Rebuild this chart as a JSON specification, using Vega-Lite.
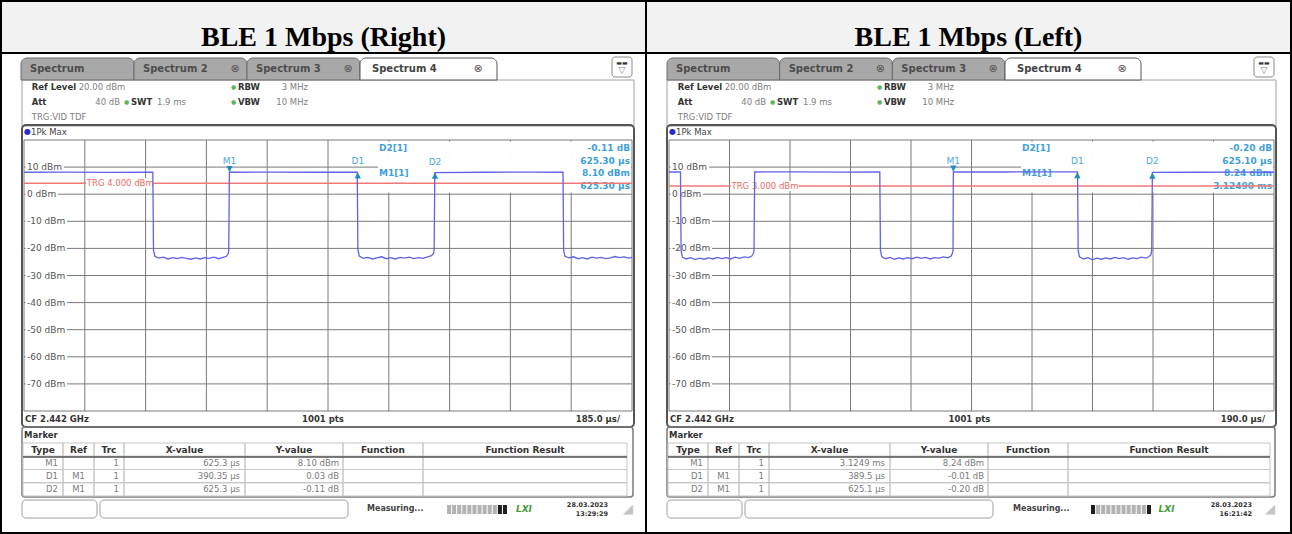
{
"$schema":"https://vega.github.io/schema/vega-lite/v6.json",
"background":"#000000",
"padding":2,
"spacing":2,
"bounds":"flush",
"config":{"view":{"fill":"#ffffff","stroke":null},"font":"DejaVu Sans","axis":{"disable":true},"legend":{"disable":true}},
"datasets":{
"panels":[
{"panel":"R","title":"BLE 1 Mbps (Right)","cf":"CF 2.442 GHz","pts":"1001 pts","div":"185.0 µs/","date":"28.03.2023","time":"13:29:29"},
{"panel":"L","title":"BLE 1 Mbps (Left)","cf":"CF 2.442 GHz","pts":"1001 pts","div":"190.0 µs/","date":"28.03.2023","time":"16:21:42"}],
"tabs":[
{"tab":"Spectrum","bar":"tabs","active":false,"close":false},
{"tab":"Spectrum 2","bar":"tabs","active":false,"close":true},
{"tab":"Spectrum 3","bar":"tabs","active":false,"close":true},
{"tab":"Spectrum 4","bar":"tabs","active":true,"close":true}],
"header":[
{"col":"level","line":"1","label":"Ref Level","value":"20.00 dBm"},
{"col":"level","line":"2","label":"Att","value":"40 dB"},
{"col":"level","line":"3","label":"TRG:VID TDF","value":""},
{"col":"sweep","line":"2","label":"SWT","value":"1.9 ms"},
{"col":"bandwidth","line":"1","label":"RBW","value":"3 MHz"},
{"col":"bandwidth","line":"2","label":"VBW","value":"10 MHz"}],
"gridX":[
{"panel":"R","t":0},{"panel":"R","t":185},{"panel":"R","t":370},{"panel":"R","t":555},{"panel":"R","t":740},{"panel":"R","t":925},{"panel":"R","t":1110},{"panel":"R","t":1295},{"panel":"R","t":1480},{"panel":"R","t":1665},{"panel":"R","t":1850},
{"panel":"L","t":0},{"panel":"L","t":190},{"panel":"L","t":380},{"panel":"L","t":570},{"panel":"L","t":760},{"panel":"L","t":950},{"panel":"L","t":1140},{"panel":"L","t":1330},{"panel":"L","t":1520},{"panel":"L","t":1710},{"panel":"L","t":1900}],
"gridY":[
{"dbm":20,"label":""},{"dbm":10,"label":"10 dBm"},{"dbm":0,"label":"0 dBm"},{"dbm":-10,"label":"-10 dBm"},{"dbm":-20,"label":"-20 dBm"},{"dbm":-30,"label":"-30 dBm"},{"dbm":-40,"label":"-40 dBm"},{"dbm":-50,"label":"-50 dBm"},{"dbm":-60,"label":"-60 dBm"},{"dbm":-70,"label":"-70 dBm"},{"dbm":-80,"label":""}],
"trigger":[{"panel":"R","dbm":4,"label":"TRG  4.000 dBm"},{"panel":"L","dbm":3,"label":"TRG  3.000 dBm"}],
"markers":[
{"panel":"R","name":"M1","type":"M","t":625.3,"dbm":8.1},
{"panel":"R","name":"D1","type":"D","t":1015.65,"dbm":8.13},
{"panel":"R","name":"D2","type":"D","t":1250.6,"dbm":7.99},
{"panel":"L","name":"M1","type":"M","t":893,"dbm":8.24},
{"panel":"L","name":"D1","type":"D","t":1282.5,"dbm":8.23},
{"panel":"L","name":"D2","type":"D","t":1518.1,"dbm":8.04}],
"info":[
{"panel":"R","box":"info","line":"1","left":"D2[1]","right":"-0.11 dB"},
{"panel":"R","box":"info","line":"2","left":"","right":"625.30 µs"},
{"panel":"R","box":"info","line":"3","left":"M1[1]","right":"8.10 dBm"},
{"panel":"R","box":"info","line":"4","left":"","right":"625.30 µs"},
{"panel":"L","box":"info","line":"1","left":"D2[1]","right":"-0.20 dB"},
{"panel":"L","box":"info","line":"2","left":"","right":"625.10 µs"},
{"panel":"L","box":"info","line":"3","left":"M1[1]","right":"8.24 dBm"},
{"panel":"L","box":"info","line":"4","left":"","right":"3.12490 ms"}],
"table":[
{"panel":"R","row":"hdr","col":"Type","text":"Type"},{"panel":"R","row":"hdr","col":"Ref","text":"Ref"},{"panel":"R","row":"hdr","col":"Trc","text":"Trc"},{"panel":"R","row":"hdr","col":"X-value","text":"X-value"},{"panel":"R","row":"hdr","col":"Y-value","text":"Y-value"},{"panel":"R","row":"hdr","col":"Function","text":"Function"},{"panel":"R","row":"hdr","col":"Function Result","text":"Function Result"},
{"panel":"R","row":"M1","col":"Type","text":"M1"},{"panel":"R","row":"M1","col":"Ref","text":""},{"panel":"R","row":"M1","col":"Trc","text":"1"},{"panel":"R","row":"M1","col":"X-value","text":"625.3 µs"},{"panel":"R","row":"M1","col":"Y-value","text":"8.10 dBm"},{"panel":"R","row":"M1","col":"Function","text":""},{"panel":"R","row":"M1","col":"Function Result","text":""},
{"panel":"R","row":"D1","col":"Type","text":"D1"},{"panel":"R","row":"D1","col":"Ref","text":"M1"},{"panel":"R","row":"D1","col":"Trc","text":"1"},{"panel":"R","row":"D1","col":"X-value","text":"390.35 µs"},{"panel":"R","row":"D1","col":"Y-value","text":"0.03 dB"},{"panel":"R","row":"D1","col":"Function","text":""},{"panel":"R","row":"D1","col":"Function Result","text":""},
{"panel":"R","row":"D2","col":"Type","text":"D2"},{"panel":"R","row":"D2","col":"Ref","text":"M1"},{"panel":"R","row":"D2","col":"Trc","text":"1"},{"panel":"R","row":"D2","col":"X-value","text":"625.3 µs"},{"panel":"R","row":"D2","col":"Y-value","text":"-0.11 dB"},{"panel":"R","row":"D2","col":"Function","text":""},{"panel":"R","row":"D2","col":"Function Result","text":""},
{"panel":"L","row":"hdr","col":"Type","text":"Type"},{"panel":"L","row":"hdr","col":"Ref","text":"Ref"},{"panel":"L","row":"hdr","col":"Trc","text":"Trc"},{"panel":"L","row":"hdr","col":"X-value","text":"X-value"},{"panel":"L","row":"hdr","col":"Y-value","text":"Y-value"},{"panel":"L","row":"hdr","col":"Function","text":"Function"},{"panel":"L","row":"hdr","col":"Function Result","text":"Function Result"},
{"panel":"L","row":"M1","col":"Type","text":"M1"},{"panel":"L","row":"M1","col":"Ref","text":""},{"panel":"L","row":"M1","col":"Trc","text":"1"},{"panel":"L","row":"M1","col":"X-value","text":"3.1249 ms"},{"panel":"L","row":"M1","col":"Y-value","text":"8.24 dBm"},{"panel":"L","row":"M1","col":"Function","text":""},{"panel":"L","row":"M1","col":"Function Result","text":""},
{"panel":"L","row":"D1","col":"Type","text":"D1"},{"panel":"L","row":"D1","col":"Ref","text":"M1"},{"panel":"L","row":"D1","col":"Trc","text":"1"},{"panel":"L","row":"D1","col":"X-value","text":"389.5 µs"},{"panel":"L","row":"D1","col":"Y-value","text":"-0.01 dB"},{"panel":"L","row":"D1","col":"Function","text":""},{"panel":"L","row":"D1","col":"Function Result","text":""},
{"panel":"L","row":"D2","col":"Type","text":"D2"},{"panel":"L","row":"D2","col":"Ref","text":"M1"},{"panel":"L","row":"D2","col":"Trc","text":"1"},{"panel":"L","row":"D2","col":"X-value","text":"625.1 µs"},{"panel":"L","row":"D2","col":"Y-value","text":"-0.20 dB"},{"panel":"L","row":"D2","col":"Function","text":""},{"panel":"L","row":"D2","col":"Function Result","text":""}],
"progress":[
{"panel":"R","bar":"p","seg":"01","state":"off"},{"panel":"R","bar":"p","seg":"02","state":"off"},{"panel":"R","bar":"p","seg":"03","state":"off"},{"panel":"R","bar":"p","seg":"04","state":"off"},{"panel":"R","bar":"p","seg":"05","state":"off"},{"panel":"R","bar":"p","seg":"06","state":"off"},{"panel":"R","bar":"p","seg":"07","state":"off"},{"panel":"R","bar":"p","seg":"08","state":"off"},{"panel":"R","bar":"p","seg":"09","state":"off"},{"panel":"R","bar":"p","seg":"10","state":"off"},{"panel":"R","bar":"p","seg":"11","state":"on"},{"panel":"R","bar":"p","seg":"12","state":"on"},
{"panel":"L","bar":"p","seg":"01","state":"on"},{"panel":"L","bar":"p","seg":"02","state":"off"},{"panel":"L","bar":"p","seg":"03","state":"off"},{"panel":"L","bar":"p","seg":"04","state":"off"},{"panel":"L","bar":"p","seg":"05","state":"off"},{"panel":"L","bar":"p","seg":"06","state":"off"},{"panel":"L","bar":"p","seg":"07","state":"off"},{"panel":"L","bar":"p","seg":"08","state":"off"},{"panel":"L","bar":"p","seg":"09","state":"off"},{"panel":"L","bar":"p","seg":"10","state":"off"},{"panel":"L","bar":"p","seg":"11","state":"off"},{"panel":"L","bar":"p","seg":"12","state":"on"}],
"trace":[
{"panel":"R","t":0,"dbm":8.1},{"panel":"R","t":120,"dbm":8.12},{"panel":"R","t":260,"dbm":8.08},{"panel":"R","t":392,"dbm":8.1},{"panel":"R","t":394,"dbm":-20.6},{"panel":"R","t":398,"dbm":-22.9},{"panel":"R","t":410,"dbm":-23.6},{"panel":"R","t":424,"dbm":-23.2},{"panel":"R","t":438,"dbm":-23.9},{"panel":"R","t":452,"dbm":-23.4},{"panel":"R","t":466,"dbm":-23.8},{"panel":"R","t":480,"dbm":-23.3},{"panel":"R","t":494,"dbm":-23.7},{"panel":"R","t":508,"dbm":-24.0},{"panel":"R","t":522,"dbm":-23.5},{"panel":"R","t":536,"dbm":-23.9},{"panel":"R","t":550,"dbm":-23.4},{"panel":"R","t":564,"dbm":-23.7},{"panel":"R","t":578,"dbm":-23.2},{"panel":"R","t":592,"dbm":-23.8},{"panel":"R","t":606,"dbm":-23.3},{"panel":"R","t":616,"dbm":-22.9},{"panel":"R","t":621,"dbm":-22.0},{"panel":"R","t":623,"dbm":-20.8},{"panel":"R","t":625,"dbm":8.1},{"panel":"R","t":760,"dbm":8.14},{"panel":"R","t":900,"dbm":8.1},{"panel":"R","t":1014,"dbm":8.12},{"panel":"R","t":1016,"dbm":-20.5},{"panel":"R","t":1020,"dbm":-22.8},{"panel":"R","t":1032,"dbm":-23.7},{"panel":"R","t":1046,"dbm":-23.3},{"panel":"R","t":1060,"dbm":-23.9},{"panel":"R","t":1074,"dbm":-23.5},{"panel":"R","t":1088,"dbm":-23.1},{"panel":"R","t":1102,"dbm":-23.8},{"panel":"R","t":1116,"dbm":-23.4},{"panel":"R","t":1130,"dbm":-23.9},{"panel":"R","t":1144,"dbm":-23.3},{"panel":"R","t":1158,"dbm":-23.6},{"panel":"R","t":1172,"dbm":-23.2},{"panel":"R","t":1186,"dbm":-23.8},{"panel":"R","t":1200,"dbm":-23.4},{"panel":"R","t":1214,"dbm":-23.7},{"panel":"R","t":1228,"dbm":-23.1},{"panel":"R","t":1240,"dbm":-22.7},{"panel":"R","t":1246,"dbm":-21.9},{"panel":"R","t":1248,"dbm":-20.5},{"panel":"R","t":1250,"dbm":7.99},{"panel":"R","t":1400,"dbm":8.1},{"panel":"R","t":1540,"dbm":8.12},{"panel":"R","t":1640,"dbm":8.1},{"panel":"R","t":1642,"dbm":-20.7},{"panel":"R","t":1646,"dbm":-22.9},{"panel":"R","t":1658,"dbm":-23.5},{"panel":"R","t":1672,"dbm":-23.1},{"panel":"R","t":1686,"dbm":-23.8},{"panel":"R","t":1700,"dbm":-23.4},{"panel":"R","t":1714,"dbm":-23.9},{"panel":"R","t":1728,"dbm":-23.2},{"panel":"R","t":1742,"dbm":-23.6},{"panel":"R","t":1756,"dbm":-23.3},{"panel":"R","t":1770,"dbm":-23.8},{"panel":"R","t":1784,"dbm":-23.5},{"panel":"R","t":1798,"dbm":-23.0},{"panel":"R","t":1812,"dbm":-23.4},{"panel":"R","t":1826,"dbm":-23.1},{"panel":"R","t":1840,"dbm":-23.6},{"panel":"R","t":1850,"dbm":-23.3},
{"panel":"L","t":0,"dbm":8.2},{"panel":"L","t":36,"dbm":8.2},{"panel":"L","t":38,"dbm":-20.8},{"panel":"L","t":42,"dbm":-23.2},{"panel":"L","t":54,"dbm":-23.9},{"panel":"L","t":68,"dbm":-23.4},{"panel":"L","t":82,"dbm":-24.1},{"panel":"L","t":96,"dbm":-23.6},{"panel":"L","t":110,"dbm":-24.0},{"panel":"L","t":124,"dbm":-23.5},{"panel":"L","t":138,"dbm":-23.9},{"panel":"L","t":152,"dbm":-23.3},{"panel":"L","t":166,"dbm":-23.8},{"panel":"L","t":180,"dbm":-23.4},{"panel":"L","t":194,"dbm":-23.9},{"panel":"L","t":208,"dbm":-23.2},{"panel":"L","t":222,"dbm":-23.7},{"panel":"L","t":236,"dbm":-23.1},{"panel":"L","t":250,"dbm":-23.4},{"panel":"L","t":260,"dbm":-22.8},{"panel":"L","t":265,"dbm":-21.9},{"panel":"L","t":267,"dbm":-20.6},{"panel":"L","t":269,"dbm":8.2},{"panel":"L","t":400,"dbm":8.22},{"panel":"L","t":540,"dbm":8.18},{"panel":"L","t":662,"dbm":8.2},{"panel":"L","t":664,"dbm":-20.7},{"panel":"L","t":668,"dbm":-23.0},{"panel":"L","t":680,"dbm":-23.8},{"panel":"L","t":694,"dbm":-23.3},{"panel":"L","t":708,"dbm":-24.0},{"panel":"L","t":722,"dbm":-23.5},{"panel":"L","t":736,"dbm":-23.9},{"panel":"L","t":750,"dbm":-23.4},{"panel":"L","t":764,"dbm":-23.8},{"panel":"L","t":778,"dbm":-23.2},{"panel":"L","t":792,"dbm":-23.7},{"panel":"L","t":806,"dbm":-23.3},{"panel":"L","t":820,"dbm":-23.9},{"panel":"L","t":834,"dbm":-23.4},{"panel":"L","t":848,"dbm":-23.6},{"panel":"L","t":862,"dbm":-23.1},{"panel":"L","t":876,"dbm":-23.5},{"panel":"L","t":886,"dbm":-22.8},{"panel":"L","t":890,"dbm":-21.8},{"panel":"L","t":892,"dbm":-20.5},{"panel":"L","t":893,"dbm":8.24},{"panel":"L","t":1050,"dbm":8.2},{"panel":"L","t":1180,"dbm":8.22},{"panel":"L","t":1283,"dbm":8.23},{"panel":"L","t":1285,"dbm":-20.8},{"panel":"L","t":1289,"dbm":-23.1},{"panel":"L","t":1302,"dbm":-23.9},{"panel":"L","t":1316,"dbm":-23.4},{"panel":"L","t":1330,"dbm":-24.2},{"panel":"L","t":1344,"dbm":-23.6},{"panel":"L","t":1358,"dbm":-24.0},{"panel":"L","t":1372,"dbm":-23.5},{"panel":"L","t":1386,"dbm":-23.9},{"panel":"L","t":1400,"dbm":-23.3},{"panel":"L","t":1414,"dbm":-23.8},{"panel":"L","t":1428,"dbm":-23.4},{"panel":"L","t":1442,"dbm":-24.0},{"panel":"L","t":1456,"dbm":-23.5},{"panel":"L","t":1470,"dbm":-23.8},{"panel":"L","t":1484,"dbm":-23.2},{"panel":"L","t":1498,"dbm":-23.6},{"panel":"L","t":1508,"dbm":-23.0},{"panel":"L","t":1514,"dbm":-22.2},{"panel":"L","t":1516,"dbm":-20.7},{"panel":"L","t":1518,"dbm":8.04},{"panel":"L","t":1650,"dbm":8.1},{"panel":"L","t":1780,"dbm":8.12},{"panel":"L","t":1900,"dbm":8.1}]
},
"hconcat":[
{"width":643,"height":530,
"resolve":{"scale":{"x":"independent","y":"independent","shape":"independent"}},
"layer":[
{"data":{"name":"panels"},"transform":[{"filter":"datum.panel=='R'"}],
 "layer":[{"mark":{"type":"rect","fill":"#f2f2f2"},"encoding":{"x":{"field":"panel","type":"nominal","scale":{"type":"band","range":[0,643],"paddingInner":0,"paddingOuter":0}},"y":{"field":"panel","type":"nominal","scale":{"type":"band","range":[0,50],"paddingInner":0,"paddingOuter":0}}}},
 {"mark":{"type":"text","font":"Liberation Serif","fontSize":28,"fontWeight":"bold","fill":"#000000","baseline":"alphabetic","dy":-6},"encoding":{"x":{"field":"panel","type":"nominal","scale":{"type":"band","range":[0,643],"paddingInner":0,"paddingOuter":0}},"y":{"field":"panel","type":"nominal","bandPosition":1,"scale":{"type":"band","range":[0,50],"paddingInner":0,"paddingOuter":0}},"text":{"field":"title"}}}]},
{"data":{"name":"panels"},"transform":[{"filter":"datum.panel=='R'"}],"mark":{"type":"rect","fill":"#000000"},
 "encoding":{"x":{"field":"panel","type":"nominal","scale":{"type":"band","range":[0,643],"paddingInner":0,"paddingOuter":0}},"y":{"field":"panel","type":"nominal","scale":{"type":"band","range":[50,52],"paddingInner":0,"paddingOuter":0}}}},
{"data":{"name":"panels"},"transform":[{"filter":"datum.panel=='R'"}],"mark":{"type":"rect","filled":false,"stroke":"#a0a0a0","strokeWidth":1},
 "encoding":{"x":{"field":"panel","type":"nominal","scale":{"type":"band","range":[20,632],"paddingInner":0,"paddingOuter":0}},"y":{"field":"panel","type":"nominal","scale":{"type":"band","range":[78,124],"paddingInner":0,"paddingOuter":0}}}},
{"data":{"name":"tabs"},"transform":[{"filter":"!datum.active"}],
 "layer":[
 {"mark":{"type":"rect","fill":"#a8a8a8","stroke":"#6a6a6a","strokeWidth":1,"cornerRadiusTopLeft":6,"cornerRadiusTopRight":6},"encoding":{"x":{"field":"tab","type":"nominal","sort":null,"scale":{"type":"band","range":[19,358],"paddingInner":0,"paddingOuter":0}},"y":{"field":"bar","type":"nominal","scale":{"type":"band","range":[56,78],"paddingInner":0,"paddingOuter":0}}}},
 {"mark":{"type":"text","align":"left","dx":9,"fontSize":10,"fontWeight":"bold","fill":"#4d4d4d"},"encoding":{"x":{"field":"tab","type":"nominal","sort":null,"bandPosition":0,"scale":{"type":"band","range":[19,358],"paddingInner":0,"paddingOuter":0}},"y":{"field":"bar","type":"nominal","scale":{"type":"band","range":[56,78],"paddingInner":0,"paddingOuter":0}},"text":{"field":"tab"}}},
 {"transform":[{"filter":"datum.close"}],"mark":{"type":"text","dx":-12,"fontSize":11,"fill":"#555555"},"encoding":{"x":{"field":"tab","type":"nominal","sort":null,"bandPosition":1,"scale":{"type":"band","range":[19,358],"paddingInner":0,"paddingOuter":0}},"y":{"field":"bar","type":"nominal","scale":{"type":"band","range":[56,78],"paddingInner":0,"paddingOuter":0}},"text":{"value":"⊗"}}}]},
{"data":{"name":"tabs"},"transform":[{"filter":"datum.active"}],
 "layer":[
 {"mark":{"type":"rect","fill":"#ffffff","stroke":"#555555","strokeWidth":1,"cornerRadiusTopLeft":6,"cornerRadiusTopRight":6},"encoding":{"x":{"field":"tab","type":"nominal","scale":{"type":"band","range":[358,495],"paddingInner":0,"paddingOuter":0}},"y":{"field":"bar","type":"nominal","scale":{"type":"band","range":[56,78],"paddingInner":0,"paddingOuter":0}}}},
 {"mark":{"type":"text","align":"left","dx":12,"fontSize":10,"fontWeight":"bold","fill":"#444444"},"encoding":{"x":{"field":"tab","type":"nominal","bandPosition":0,"scale":{"type":"band","range":[358,495],"paddingInner":0,"paddingOuter":0}},"y":{"field":"bar","type":"nominal","scale":{"type":"band","range":[56,78],"paddingInner":0,"paddingOuter":0}},"text":{"field":"tab"}}},
 {"mark":{"type":"text","dx":-19,"fontSize":11,"fill":"#555555"},"encoding":{"x":{"field":"tab","type":"nominal","bandPosition":1,"scale":{"type":"band","range":[358,495],"paddingInner":0,"paddingOuter":0}},"y":{"field":"bar","type":"nominal","scale":{"type":"band","range":[56,78],"paddingInner":0,"paddingOuter":0}},"text":{"value":"⊗"}}}]},
{"data":{"name":"panels"},"transform":[{"filter":"datum.panel=='R'"}],
 "encoding":{"x":{"field":"panel","type":"nominal","scale":{"type":"band","range":[610,630],"paddingInner":0,"paddingOuter":0}},"y":{"field":"panel","type":"nominal","scale":{"type":"band","range":[55,75],"paddingInner":0,"paddingOuter":0}}},
 "layer":[{"mark":{"type":"rect","fill":"#ffffff","stroke":"#8a8a8a","cornerRadius":3}},{"mark":{"type":"text","fontSize":6,"dy":-4,"fill":"#333333"},"encoding":{"text":{"value":"▬▬"}}},{"mark":{"type":"text","fontSize":9,"dy":3,"fill":"#777777"},"encoding":{"text":{"value":"▽"}}}]},
{"data":{"name":"header"},"transform":[{"filter":"datum.col=='level'"}],
 "layer":[
 {"transform":[{"filter":"datum.line!='3'"}],"mark":{"type":"text","align":"left","fontSize":8.5,"fontWeight":"bold","fill":"#333333"},"encoding":{"x":{"field":"col","type":"nominal","bandPosition":0,"scale":{"type":"band","range":[29.7,118],"paddingInner":0,"paddingOuter":0}},"y":{"field":"line","type":"nominal","scale":{"type":"band","domain":["1","2","3"],"range":[78,122],"paddingInner":0,"paddingOuter":0}},"text":{"field":"label"}}},
 {"transform":[{"filter":"datum.line=='3'"}],"mark":{"type":"text","align":"left","fontSize":8.5,"fill":"#808080"},"encoding":{"x":{"field":"col","type":"nominal","bandPosition":0,"scale":{"type":"band","range":[29.7,118],"paddingInner":0,"paddingOuter":0}},"y":{"field":"line","type":"nominal","scale":{"type":"band","domain":["1","2","3"],"range":[78,122],"paddingInner":0,"paddingOuter":0}},"text":{"field":"label"}}},
 {"transform":[{"filter":"datum.line=='1'"}],"mark":{"type":"text","align":"left","dx":47,"fontSize":8.5,"fill":"#808080"},"encoding":{"x":{"field":"col","type":"nominal","bandPosition":0,"scale":{"type":"band","range":[29.7,118],"paddingInner":0,"paddingOuter":0}},"y":{"field":"line","type":"nominal","scale":{"type":"band","domain":["1","2","3"],"range":[78,122],"paddingInner":0,"paddingOuter":0}},"text":{"field":"value"}}},
 {"transform":[{"filter":"datum.line=='2'"}],"mark":{"type":"text","align":"right","fontSize":8.5,"fill":"#808080"},"encoding":{"x":{"field":"col","type":"nominal","bandPosition":1,"scale":{"type":"band","range":[29.7,118],"paddingInner":0,"paddingOuter":0}},"y":{"field":"line","type":"nominal","scale":{"type":"band","domain":["1","2","3"],"range":[78,122],"paddingInner":0,"paddingOuter":0}},"text":{"field":"value"}}}]},
{"data":{"name":"header"},"transform":[{"filter":"datum.col=='sweep'"}],
 "layer":[
 {"mark":{"type":"text","align":"left","fontSize":6,"fill":"#5cb85c"},"encoding":{"x":{"field":"col","type":"nominal","bandPosition":0,"scale":{"type":"band","range":[122,229],"paddingInner":0,"paddingOuter":0}},"y":{"field":"line","type":"nominal","scale":{"type":"band","domain":["1","2","3"],"range":[78,122],"paddingInner":0,"paddingOuter":0}},"text":{"value":"●"}}},
 {"mark":{"type":"text","align":"left","dx":7,"fontSize":8.5,"fontWeight":"bold","fill":"#333333"},"encoding":{"x":{"field":"col","type":"nominal","bandPosition":0,"scale":{"type":"band","range":[122,229],"paddingInner":0,"paddingOuter":0}},"y":{"field":"line","type":"nominal","scale":{"type":"band","domain":["1","2","3"],"range":[78,122],"paddingInner":0,"paddingOuter":0}},"text":{"field":"label"}}},
 {"mark":{"type":"text","align":"left","dx":33,"fontSize":8.5,"fill":"#808080"},"encoding":{"x":{"field":"col","type":"nominal","bandPosition":0,"scale":{"type":"band","range":[122,229],"paddingInner":0,"paddingOuter":0}},"y":{"field":"line","type":"nominal","scale":{"type":"band","domain":["1","2","3"],"range":[78,122],"paddingInner":0,"paddingOuter":0}},"text":{"field":"value"}}}]},
{"data":{"name":"header"},"transform":[{"filter":"datum.col=='bandwidth'"}],
 "layer":[
 {"mark":{"type":"text","align":"left","fontSize":6,"fill":"#5cb85c"},"encoding":{"x":{"field":"col","type":"nominal","bandPosition":0,"scale":{"type":"band","range":[229,306],"paddingInner":0,"paddingOuter":0}},"y":{"field":"line","type":"nominal","scale":{"type":"band","domain":["1","2","3"],"range":[78,122],"paddingInner":0,"paddingOuter":0}},"text":{"value":"●"}}},
 {"mark":{"type":"text","align":"left","dx":7,"fontSize":8.5,"fontWeight":"bold","fill":"#333333"},"encoding":{"x":{"field":"col","type":"nominal","bandPosition":0,"scale":{"type":"band","range":[229,306],"paddingInner":0,"paddingOuter":0}},"y":{"field":"line","type":"nominal","scale":{"type":"band","domain":["1","2","3"],"range":[78,122],"paddingInner":0,"paddingOuter":0}},"text":{"field":"label"}}},
 {"mark":{"type":"text","align":"right","fontSize":8.5,"fill":"#808080"},"encoding":{"x":{"field":"col","type":"nominal","bandPosition":1,"scale":{"type":"band","range":[229,306],"paddingInner":0,"paddingOuter":0}},"y":{"field":"line","type":"nominal","scale":{"type":"band","domain":["1","2","3"],"range":[78,122],"paddingInner":0,"paddingOuter":0}},"text":{"field":"value"}}}]},
{"data":{"name":"panels"},"transform":[{"filter":"datum.panel=='R'"}],
 "layer":[
 {"mark":{"type":"rect","filled":false,"stroke":"#555555","strokeWidth":2,"cornerRadius":4},"encoding":{"x":{"field":"panel","type":"nominal","scale":{"type":"band","range":[20,632],"paddingInner":0,"paddingOuter":0}},"y":{"field":"panel","type":"nominal","scale":{"type":"band","range":[123,425],"paddingInner":0,"paddingOuter":0}}}},
 {"mark":{"type":"text","align":"left","dx":2,"dy":7,"fontSize":8,"fill":"#2a2ad0"},"encoding":{"x":{"field":"panel","type":"nominal","bandPosition":0,"scale":{"type":"band","range":[20,632],"paddingInner":0,"paddingOuter":0}},"y":{"field":"panel","type":"nominal","bandPosition":0,"scale":{"type":"band","range":[123,425],"paddingInner":0,"paddingOuter":0}},"text":{"value":"●"}}},
 {"mark":{"type":"text","align":"left","dx":9,"dy":7,"fontSize":8.5,"fill":"#444444"},"encoding":{"x":{"field":"panel","type":"nominal","bandPosition":0,"scale":{"type":"band","range":[20,632],"paddingInner":0,"paddingOuter":0}},"y":{"field":"panel","type":"nominal","bandPosition":0,"scale":{"type":"band","range":[123,425],"paddingInner":0,"paddingOuter":0}},"text":{"value":"1Pk Max"}}},
 {"mark":{"type":"text","align":"left","dx":3,"dy":-8,"fontSize":8.5,"fontWeight":"bold","fill":"#333333"},"encoding":{"x":{"field":"panel","type":"nominal","bandPosition":0,"scale":{"type":"band","range":[20,632],"paddingInner":0,"paddingOuter":0}},"y":{"field":"panel","type":"nominal","bandPosition":1,"scale":{"type":"band","range":[123,425],"paddingInner":0,"paddingOuter":0}},"text":{"field":"cf"}}},
 {"mark":{"type":"text","dx":-5,"dy":-8,"fontSize":8.5,"fontWeight":"bold","fill":"#333333"},"encoding":{"x":{"field":"panel","type":"nominal","bandPosition":0.5,"scale":{"type":"band","range":[20,632],"paddingInner":0,"paddingOuter":0}},"y":{"field":"panel","type":"nominal","bandPosition":1,"scale":{"type":"band","range":[123,425],"paddingInner":0,"paddingOuter":0}},"text":{"field":"pts"}}},
 {"mark":{"type":"text","align":"right","dx":-14,"dy":-8,"fontSize":8.5,"fontWeight":"bold","fill":"#333333"},"encoding":{"x":{"field":"panel","type":"nominal","bandPosition":1,"scale":{"type":"band","range":[20,632],"paddingInner":0,"paddingOuter":0}},"y":{"field":"panel","type":"nominal","bandPosition":1,"scale":{"type":"band","range":[123,425],"paddingInner":0,"paddingOuter":0}},"text":{"field":"div"}}}]},
{"layer":[
 {"data":{"name":"gridX"},"transform":[{"filter":"datum.panel=='R'"}],"mark":{"type":"rule","stroke":"#7a7a7a","strokeWidth":1},"encoding":{"x":{"field":"t","type":"quantitative","scale":{"domain":[0,1850],"range":[22,630],"nice":false,"zero":false}},"y":{"datum":-80,"type":"quantitative","scale":{"domain":[-80,20],"range":[409,138],"nice":false,"zero":false}},"y2":{"datum":20}}},
 {"data":{"name":"gridY"},"mark":{"type":"rule","stroke":"#7a7a7a","strokeWidth":1},"encoding":{"y":{"field":"dbm","type":"quantitative","scale":{"domain":[-80,20],"range":[409,138],"nice":false,"zero":false}},"x":{"datum":0,"type":"quantitative","scale":{"domain":[0,1850],"range":[22,630],"nice":false,"zero":false}},"x2":{"datum":1850}}},
 {"data":{"name":"gridY"},"transform":[{"filter":"datum.label!=''"}],"mark":{"type":"point","filled":true,"fill":"#ffffff","opacity":1,"size":400,"strokeWidth":0},"encoding":{"y":{"field":"dbm","type":"quantitative","scale":{"domain":[-80,20],"range":[409,138],"nice":false,"zero":false}},"x":{"datum":0,"type":"quantitative","scale":{"domain":[0,1850],"range":[22,630],"nice":false,"zero":false}},"shape":{"field":"label","type":"nominal","scale":{"domain":["10 dBm","0 dBm","-10 dBm","-20 dBm","-30 dBm","-40 dBm","-50 dBm","-60 dBm","-70 dBm"],"range":["M0.15,-0.5H4.0V0.5H0.15Z","M0.15,-0.5H3.4V0.5H0.15Z","M0.15,-0.5H4.3V0.5H0.15Z","M0.15,-0.5H4.3V0.5H0.15Z","M0.15,-0.5H4.3V0.5H0.15Z","M0.15,-0.5H4.3V0.5H0.15Z","M0.15,-0.5H4.3V0.5H0.15Z","M0.15,-0.5H4.3V0.5H0.15Z","M0.15,-0.5H4.3V0.5H0.15Z"]}}}},
 {"data":{"name":"gridY"},"transform":[{"filter":"datum.label!=''"}],"mark":{"type":"text","align":"left","dx":3,"fontSize":9,"fill":"#555555"},"encoding":{"y":{"field":"dbm","type":"quantitative","scale":{"domain":[-80,20],"range":[409,138],"nice":false,"zero":false}},"x":{"datum":0,"type":"quantitative","scale":{"domain":[0,1850],"range":[22,630],"nice":false,"zero":false}},"text":{"field":"label"}}}]},
{"data":{"name":"info"},"transform":[{"filter":"datum.panel=='R'"}],
 "layer":[
 {"mark":{"type":"rect","fill":"#ffffff"},"encoding":{"x":{"field":"box","type":"nominal","scale":{"type":"band","range":[376,629],"paddingInner":0,"paddingOuter":0}},"y":{"field":"line","type":"nominal","scale":{"type":"band","domain":["1","2","3","4"],"range":[139.5,190.5],"paddingInner":0,"paddingOuter":0}}}},
 {"mark":{"type":"text","align":"left","dx":1,"fontSize":9,"fontWeight":"bold","fill":"#3f9fd8"},"encoding":{"x":{"field":"box","type":"nominal","bandPosition":0,"scale":{"type":"band","range":[376,629],"paddingInner":0,"paddingOuter":0}},"y":{"field":"line","type":"nominal","scale":{"type":"band","domain":["1","2","3","4"],"range":[139.5,190.5],"paddingInner":0,"paddingOuter":0}},"text":{"field":"left"}}},
 {"mark":{"type":"text","align":"right","dx":-1,"fontSize":9,"fontWeight":"bold","fill":"#3f9fd8"},"encoding":{"x":{"field":"box","type":"nominal","bandPosition":1,"scale":{"type":"band","range":[376,629],"paddingInner":0,"paddingOuter":0}},"y":{"field":"line","type":"nominal","scale":{"type":"band","domain":["1","2","3","4"],"range":[139.5,190.5],"paddingInner":0,"paddingOuter":0}},"text":{"field":"right"}}}]},
{"layer":[
 {"data":{"name":"trigger"},"transform":[{"filter":"datum.panel=='R'"}],"mark":{"type":"rule","stroke":"#f27878","strokeWidth":1.5},"encoding":{"y":{"field":"dbm","type":"quantitative","scale":{"domain":[-80,20],"range":[409,138],"nice":false,"zero":false}},"x":{"datum":0,"type":"quantitative","scale":{"domain":[0,1850],"range":[22,630],"nice":false,"zero":false}},"x2":{"datum":1850}}},
 {"data":{"name":"trigger"},"transform":[{"filter":"datum.panel=='R'"}],"mark":{"type":"point","filled":true,"fill":"#ffffff","opacity":1,"size":400,"strokeWidth":0,"shape":"M0.12,-0.5H6.9V0.5H0.12Z"},"encoding":{"y":{"field":"dbm","type":"quantitative","scale":{"domain":[-80,20],"range":[409,138],"nice":false,"zero":false}},"x":{"datum":185,"type":"quantitative","scale":{"domain":[0,1850],"range":[22,630],"nice":false,"zero":false}}}},
 {"data":{"name":"trigger"},"transform":[{"filter":"datum.panel=='R'"}],"mark":{"type":"text","align":"left","dx":2,"fontSize":8.5,"fill":"#e86a64"},"encoding":{"y":{"field":"dbm","type":"quantitative","scale":{"domain":[-80,20],"range":[409,138],"nice":false,"zero":false}},"x":{"datum":185,"type":"quantitative","scale":{"domain":[0,1850],"range":[22,630],"nice":false,"zero":false}},"text":{"field":"label"}}},
 {"data":{"name":"trace"},"transform":[{"filter":"datum.panel=='R'"}],"mark":{"type":"line","stroke":"#6161ec","strokeWidth":1.3},"encoding":{"x":{"field":"t","type":"quantitative","scale":{"domain":[0,1850],"range":[22,630],"nice":false,"zero":false}},"y":{"field":"dbm","type":"quantitative","scale":{"domain":[-80,20],"range":[409,138],"nice":false,"zero":false}}}},
 {"data":{"name":"markers"},"transform":[{"filter":"datum.panel=='R'"}],"mark":{"type":"point","filled":true,"fill":"#1f8cc2","size":40,"opacity":1,"strokeWidth":0},"encoding":{"x":{"field":"t","type":"quantitative","scale":{"domain":[0,1850],"range":[22,630],"nice":false,"zero":false}},"y":{"field":"dbm","type":"quantitative","scale":{"domain":[-80,20],"range":[409,138],"nice":false,"zero":false}},"shape":{"field":"type","type":"nominal","scale":{"domain":["M","D"],"range":["M-1,-2L1,-2L0,0Z","M-1,2L1,2L0,0Z"]}}}},
 {"data":{"name":"markers"},"transform":[{"filter":"datum.panel=='R'"}],"mark":{"type":"text","dy":-11,"fontSize":9,"fill":"#4aa9dd"},"encoding":{"x":{"field":"t","type":"quantitative","scale":{"domain":[0,1850],"range":[22,630],"nice":false,"zero":false}},"y":{"field":"dbm","type":"quantitative","scale":{"domain":[-80,20],"range":[409,138],"nice":false,"zero":false}},"text":{"field":"name"}}}]},
{"data":{"name":"panels"},"transform":[{"filter":"datum.panel=='R'"}],
 "layer":[
 {"mark":{"type":"rect","filled":false,"stroke":"#7a7a7a","strokeWidth":1.5,"cornerRadius":3},"encoding":{"x":{"field":"panel","type":"nominal","scale":{"type":"band","range":[20,631],"paddingInner":0,"paddingOuter":0}},"y":{"field":"panel","type":"nominal","scale":{"type":"band","range":[425,495],"paddingInner":0,"paddingOuter":0}}}},
 {"mark":{"type":"text","align":"left","dx":2,"dy":8,"fontSize":8.5,"fontWeight":"bold","fill":"#333333"},"encoding":{"x":{"field":"panel","type":"nominal","bandPosition":0,"scale":{"type":"band","range":[20,631],"paddingInner":0,"paddingOuter":0}},"y":{"field":"panel","type":"nominal","bandPosition":0,"scale":{"type":"band","range":[425,495],"paddingInner":0,"paddingOuter":0}},"text":{"value":"Marker"}}}]},
{"data":{"name":"table"},"transform":[{"filter":"datum.panel=='R' && datum.col=='Type'"}],"layer":[
 {"mark":{"type":"rect","filled":false,"stroke":"#c6c6c6","strokeWidth":1},"encoding":{"x":{"field":"col","type":"nominal","scale":{"type":"band","range":[21,61],"paddingInner":0,"paddingOuter":0}},"y":{"field":"row","type":"nominal","scale":{"type":"band","domain":["hdr","M1","D1","D2"],"range":[441,494],"paddingInner":0,"paddingOuter":0}}}},
 {"transform":[{"filter":"datum.row=='hdr'"}],"mark":{"type":"text","fontSize":9,"fontWeight":"bold","fill":"#333333"},"encoding":{"x":{"field":"col","type":"nominal","scale":{"type":"band","range":[21,61],"paddingInner":0,"paddingOuter":0}},"y":{"field":"row","type":"nominal","scale":{"type":"band","domain":["hdr","M1","D1","D2"],"range":[441,494],"paddingInner":0,"paddingOuter":0}},"text":{"field":"text"}}},
 {"transform":[{"filter":"datum.row!='hdr'"}],"mark":{"type":"text","align":"right","dx":-5,"fontSize":8.5,"fill":"#7a7a7a"},"encoding":{"x":{"field":"col","type":"nominal","bandPosition":1,"scale":{"type":"band","range":[21,61],"paddingInner":0,"paddingOuter":0}},"y":{"field":"row","type":"nominal","scale":{"type":"band","domain":["hdr","M1","D1","D2"],"range":[441,494],"paddingInner":0,"paddingOuter":0}},"text":{"field":"text"}}}]},
{"data":{"name":"table"},"transform":[{"filter":"datum.panel=='R' && datum.col=='Ref'"}],"layer":[
 {"mark":{"type":"rect","filled":false,"stroke":"#c6c6c6","strokeWidth":1},"encoding":{"x":{"field":"col","type":"nominal","scale":{"type":"band","range":[61,92],"paddingInner":0,"paddingOuter":0}},"y":{"field":"row","type":"nominal","scale":{"type":"band","domain":["hdr","M1","D1","D2"],"range":[441,494],"paddingInner":0,"paddingOuter":0}}}},
 {"transform":[{"filter":"datum.row=='hdr'"}],"mark":{"type":"text","fontSize":9,"fontWeight":"bold","fill":"#333333"},"encoding":{"x":{"field":"col","type":"nominal","scale":{"type":"band","range":[61,92],"paddingInner":0,"paddingOuter":0}},"y":{"field":"row","type":"nominal","scale":{"type":"band","domain":["hdr","M1","D1","D2"],"range":[441,494],"paddingInner":0,"paddingOuter":0}},"text":{"field":"text"}}},
 {"transform":[{"filter":"datum.row!='hdr'"}],"mark":{"type":"text","fontSize":8.5,"fill":"#7a7a7a"},"encoding":{"x":{"field":"col","type":"nominal","scale":{"type":"band","range":[61,92],"paddingInner":0,"paddingOuter":0}},"y":{"field":"row","type":"nominal","scale":{"type":"band","domain":["hdr","M1","D1","D2"],"range":[441,494],"paddingInner":0,"paddingOuter":0}},"text":{"field":"text"}}}]},
{"data":{"name":"table"},"transform":[{"filter":"datum.panel=='R' && datum.col=='Trc'"}],"layer":[
 {"mark":{"type":"rect","filled":false,"stroke":"#c6c6c6","strokeWidth":1},"encoding":{"x":{"field":"col","type":"nominal","scale":{"type":"band","range":[92,122],"paddingInner":0,"paddingOuter":0}},"y":{"field":"row","type":"nominal","scale":{"type":"band","domain":["hdr","M1","D1","D2"],"range":[441,494],"paddingInner":0,"paddingOuter":0}}}},
 {"transform":[{"filter":"datum.row=='hdr'"}],"mark":{"type":"text","fontSize":9,"fontWeight":"bold","fill":"#333333"},"encoding":{"x":{"field":"col","type":"nominal","scale":{"type":"band","range":[92,122],"paddingInner":0,"paddingOuter":0}},"y":{"field":"row","type":"nominal","scale":{"type":"band","domain":["hdr","M1","D1","D2"],"range":[441,494],"paddingInner":0,"paddingOuter":0}},"text":{"field":"text"}}},
 {"transform":[{"filter":"datum.row!='hdr'"}],"mark":{"type":"text","align":"right","dx":-5,"fontSize":8.5,"fill":"#7a7a7a"},"encoding":{"x":{"field":"col","type":"nominal","bandPosition":1,"scale":{"type":"band","range":[92,122],"paddingInner":0,"paddingOuter":0}},"y":{"field":"row","type":"nominal","scale":{"type":"band","domain":["hdr","M1","D1","D2"],"range":[441,494],"paddingInner":0,"paddingOuter":0}},"text":{"field":"text"}}}]},
{"data":{"name":"table"},"transform":[{"filter":"datum.panel=='R' && datum.col=='X-value'"}],"layer":[
 {"mark":{"type":"rect","filled":false,"stroke":"#c6c6c6","strokeWidth":1},"encoding":{"x":{"field":"col","type":"nominal","scale":{"type":"band","range":[122,243],"paddingInner":0,"paddingOuter":0}},"y":{"field":"row","type":"nominal","scale":{"type":"band","domain":["hdr","M1","D1","D2"],"range":[441,494],"paddingInner":0,"paddingOuter":0}}}},
 {"transform":[{"filter":"datum.row=='hdr'"}],"mark":{"type":"text","fontSize":9,"fontWeight":"bold","fill":"#333333"},"encoding":{"x":{"field":"col","type":"nominal","scale":{"type":"band","range":[122,243],"paddingInner":0,"paddingOuter":0}},"y":{"field":"row","type":"nominal","scale":{"type":"band","domain":["hdr","M1","D1","D2"],"range":[441,494],"paddingInner":0,"paddingOuter":0}},"text":{"field":"text"}}},
 {"transform":[{"filter":"datum.row!='hdr'"}],"mark":{"type":"text","align":"right","dx":-5,"fontSize":8.5,"fill":"#7a7a7a"},"encoding":{"x":{"field":"col","type":"nominal","bandPosition":1,"scale":{"type":"band","range":[122,243],"paddingInner":0,"paddingOuter":0}},"y":{"field":"row","type":"nominal","scale":{"type":"band","domain":["hdr","M1","D1","D2"],"range":[441,494],"paddingInner":0,"paddingOuter":0}},"text":{"field":"text"}}}]},
{"data":{"name":"table"},"transform":[{"filter":"datum.panel=='R' && datum.col=='Y-value'"}],"layer":[
 {"mark":{"type":"rect","filled":false,"stroke":"#c6c6c6","strokeWidth":1},"encoding":{"x":{"field":"col","type":"nominal","scale":{"type":"band","range":[243,341],"paddingInner":0,"paddingOuter":0}},"y":{"field":"row","type":"nominal","scale":{"type":"band","domain":["hdr","M1","D1","D2"],"range":[441,494],"paddingInner":0,"paddingOuter":0}}}},
 {"transform":[{"filter":"datum.row=='hdr'"}],"mark":{"type":"text","fontSize":9,"fontWeight":"bold","fill":"#333333"},"encoding":{"x":{"field":"col","type":"nominal","scale":{"type":"band","range":[243,341],"paddingInner":0,"paddingOuter":0}},"y":{"field":"row","type":"nominal","scale":{"type":"band","domain":["hdr","M1","D1","D2"],"range":[441,494],"paddingInner":0,"paddingOuter":0}},"text":{"field":"text"}}},
 {"transform":[{"filter":"datum.row!='hdr'"}],"mark":{"type":"text","align":"right","dx":-4,"fontSize":8.5,"fill":"#7a7a7a"},"encoding":{"x":{"field":"col","type":"nominal","bandPosition":1,"scale":{"type":"band","range":[243,341],"paddingInner":0,"paddingOuter":0}},"y":{"field":"row","type":"nominal","scale":{"type":"band","domain":["hdr","M1","D1","D2"],"range":[441,494],"paddingInner":0,"paddingOuter":0}},"text":{"field":"text"}}}]},
{"data":{"name":"table"},"transform":[{"filter":"datum.panel=='R' && datum.col=='Function'"}],"layer":[
 {"mark":{"type":"rect","filled":false,"stroke":"#c6c6c6","strokeWidth":1},"encoding":{"x":{"field":"col","type":"nominal","scale":{"type":"band","range":[341,421],"paddingInner":0,"paddingOuter":0}},"y":{"field":"row","type":"nominal","scale":{"type":"band","domain":["hdr","M1","D1","D2"],"range":[441,494],"paddingInner":0,"paddingOuter":0}}}},
 {"transform":[{"filter":"datum.row=='hdr'"}],"mark":{"type":"text","fontSize":9,"fontWeight":"bold","fill":"#333333"},"encoding":{"x":{"field":"col","type":"nominal","scale":{"type":"band","range":[341,421],"paddingInner":0,"paddingOuter":0}},"y":{"field":"row","type":"nominal","scale":{"type":"band","domain":["hdr","M1","D1","D2"],"range":[441,494],"paddingInner":0,"paddingOuter":0}},"text":{"field":"text"}}}]},
{"data":{"name":"table"},"transform":[{"filter":"datum.panel=='R' && datum.col=='Function Result'"}],"layer":[
 {"mark":{"type":"rect","filled":false,"stroke":"#c6c6c6","strokeWidth":1},"encoding":{"x":{"field":"col","type":"nominal","scale":{"type":"band","range":[421,625],"paddingInner":0,"paddingOuter":0}},"y":{"field":"row","type":"nominal","scale":{"type":"band","domain":["hdr","M1","D1","D2"],"range":[441,494],"paddingInner":0,"paddingOuter":0}}}},
 {"transform":[{"filter":"datum.row=='hdr'"}],"mark":{"type":"text","fontSize":9,"fontWeight":"bold","fill":"#333333"},"encoding":{"x":{"field":"col","type":"nominal","scale":{"type":"band","range":[421,625],"paddingInner":0,"paddingOuter":0}},"y":{"field":"row","type":"nominal","scale":{"type":"band","domain":["hdr","M1","D1","D2"],"range":[441,494],"paddingInner":0,"paddingOuter":0}},"text":{"field":"text"}}}]},
{"data":{"name":"panels"},"transform":[{"filter":"datum.panel=='R'"}],"mark":{"type":"rect","fill":"#555555"},"encoding":{"x":{"field":"panel","type":"nominal","scale":{"type":"band","range":[21,625],"paddingInner":0,"paddingOuter":0}},"y":{"field":"panel","type":"nominal","scale":{"type":"band","range":[454.2,455.8],"paddingInner":0,"paddingOuter":0}}}},
{"data":{"name":"panels"},"transform":[{"filter":"datum.panel=='R'"}],"mark":{"type":"rect","filled":false,"stroke":"#9f9f9f","strokeWidth":1,"cornerRadius":4},"encoding":{"x":{"field":"panel","type":"nominal","scale":{"type":"band","range":[20,95],"paddingInner":0,"paddingOuter":0}},"y":{"field":"panel","type":"nominal","scale":{"type":"band","range":[498,516],"paddingInner":0,"paddingOuter":0}}}},
{"data":{"name":"panels"},"transform":[{"filter":"datum.panel=='R'"}],"mark":{"type":"rect","filled":false,"stroke":"#9f9f9f","strokeWidth":1,"cornerRadius":4},"encoding":{"x":{"field":"panel","type":"nominal","scale":{"type":"band","range":[98,346],"paddingInner":0,"paddingOuter":0}},"y":{"field":"panel","type":"nominal","scale":{"type":"band","range":[498,516],"paddingInner":0,"paddingOuter":0}}}},
{"data":{"name":"panels"},"transform":[{"filter":"datum.panel=='R'"}],"layer":[
 {"mark":{"type":"text","align":"left","fontSize":8,"fontWeight":"bold","fill":"#444444"},"encoding":{"x":{"field":"panel","type":"nominal","bandPosition":0,"scale":{"type":"band","range":[365,631],"paddingInner":0,"paddingOuter":0}},"y":{"field":"panel","type":"nominal","scale":{"type":"band","range":[498,516],"paddingInner":0,"paddingOuter":0}},"text":{"value":"Measuring..."}}},
 {"mark":{"type":"text","fontSize":9,"fontWeight":"bold","fontStyle":"italic","fill":"#4a9a3a"},"encoding":{"x":{"field":"panel","type":"nominal","bandPosition":0.59,"scale":{"type":"band","range":[365,631],"paddingInner":0,"paddingOuter":0}},"y":{"field":"panel","type":"nominal","scale":{"type":"band","range":[498,516],"paddingInner":0,"paddingOuter":0}},"text":{"value":"LXI"}}},
 {"mark":{"type":"text","align":"right","dy":-4,"fontSize":6.5,"fontWeight":"bold","fill":"#333333"},"encoding":{"x":{"field":"panel","type":"nominal","bandPosition":0.906,"scale":{"type":"band","range":[365,631],"paddingInner":0,"paddingOuter":0}},"y":{"field":"panel","type":"nominal","scale":{"type":"band","range":[498,516],"paddingInner":0,"paddingOuter":0}},"text":{"field":"date"}}},
 {"mark":{"type":"text","align":"right","dy":5,"fontSize":6.5,"fontWeight":"bold","fill":"#333333"},"encoding":{"x":{"field":"panel","type":"nominal","bandPosition":0.906,"scale":{"type":"band","range":[365,631],"paddingInner":0,"paddingOuter":0}},"y":{"field":"panel","type":"nominal","scale":{"type":"band","range":[498,516],"paddingInner":0,"paddingOuter":0}},"text":{"field":"time"}}},
 {"mark":{"type":"text","align":"right","fontSize":13,"fill":"#c4c4c4"},"encoding":{"x":{"field":"panel","type":"nominal","bandPosition":1,"scale":{"type":"band","range":[365,631],"paddingInner":0,"paddingOuter":0}},"y":{"field":"panel","type":"nominal","scale":{"type":"band","range":[498,516],"paddingInner":0,"paddingOuter":0}},"text":{"value":"◢"}}}]},
{"data":{"name":"progress"},"transform":[{"filter":"datum.panel=='R'"}],"mark":{"type":"rect"},"encoding":{"x":{"field":"seg","type":"nominal","sort":null,"scale":{"type":"band","range":[445,505],"paddingInner":0.2,"paddingOuter":0}},"y":{"field":"bar","type":"nominal","scale":{"type":"band","range":[503,512],"paddingInner":0,"paddingOuter":0}},"fill":{"condition":{"test":"datum.state=='on'","value":"#1e1e1e"},"value":"#b3b3b3"}}}
]},
{"width":643,"height":530,
"resolve":{"scale":{"x":"independent","y":"independent","shape":"independent"}},
"layer":[
{"data":{"name":"panels"},"transform":[{"filter":"datum.panel=='L'"}],
 "layer":[{"mark":{"type":"rect","fill":"#f2f2f2"},"encoding":{"x":{"field":"panel","type":"nominal","scale":{"type":"band","range":[0,643],"paddingInner":0,"paddingOuter":0}},"y":{"field":"panel","type":"nominal","scale":{"type":"band","range":[0,50],"paddingInner":0,"paddingOuter":0}}}},
 {"mark":{"type":"text","font":"Liberation Serif","fontSize":28,"fontWeight":"bold","fill":"#000000","baseline":"alphabetic","dy":-6},"encoding":{"x":{"field":"panel","type":"nominal","scale":{"type":"band","range":[0,643],"paddingInner":0,"paddingOuter":0}},"y":{"field":"panel","type":"nominal","bandPosition":1,"scale":{"type":"band","range":[0,50],"paddingInner":0,"paddingOuter":0}},"text":{"field":"title"}}}]},
{"data":{"name":"panels"},"transform":[{"filter":"datum.panel=='L'"}],"mark":{"type":"rect","fill":"#000000"},
 "encoding":{"x":{"field":"panel","type":"nominal","scale":{"type":"band","range":[0,643],"paddingInner":0,"paddingOuter":0}},"y":{"field":"panel","type":"nominal","scale":{"type":"band","range":[50,52],"paddingInner":0,"paddingOuter":0}}}},
{"data":{"name":"panels"},"transform":[{"filter":"datum.panel=='L'"}],"mark":{"type":"rect","filled":false,"stroke":"#a0a0a0","strokeWidth":1},
 "encoding":{"x":{"field":"panel","type":"nominal","scale":{"type":"band","range":[20,629],"paddingInner":0,"paddingOuter":0}},"y":{"field":"panel","type":"nominal","scale":{"type":"band","range":[78,124],"paddingInner":0,"paddingOuter":0}}}},
{"data":{"name":"tabs"},"transform":[{"filter":"!datum.active"}],
 "layer":[
 {"mark":{"type":"rect","fill":"#a8a8a8","stroke":"#6a6a6a","strokeWidth":1,"cornerRadiusTopLeft":6,"cornerRadiusTopRight":6},"encoding":{"x":{"field":"tab","type":"nominal","sort":null,"scale":{"type":"band","range":[20,358],"paddingInner":0,"paddingOuter":0}},"y":{"field":"bar","type":"nominal","scale":{"type":"band","range":[56,78],"paddingInner":0,"paddingOuter":0}}}},
 {"mark":{"type":"text","align":"left","dx":9,"fontSize":10,"fontWeight":"bold","fill":"#4d4d4d"},"encoding":{"x":{"field":"tab","type":"nominal","sort":null,"bandPosition":0,"scale":{"type":"band","range":[20,358],"paddingInner":0,"paddingOuter":0}},"y":{"field":"bar","type":"nominal","scale":{"type":"band","range":[56,78],"paddingInner":0,"paddingOuter":0}},"text":{"field":"tab"}}},
 {"transform":[{"filter":"datum.close"}],"mark":{"type":"text","dx":-12,"fontSize":11,"fill":"#555555"},"encoding":{"x":{"field":"tab","type":"nominal","sort":null,"bandPosition":1,"scale":{"type":"band","range":[20,358],"paddingInner":0,"paddingOuter":0}},"y":{"field":"bar","type":"nominal","scale":{"type":"band","range":[56,78],"paddingInner":0,"paddingOuter":0}},"text":{"value":"⊗"}}}]},
{"data":{"name":"tabs"},"transform":[{"filter":"datum.active"}],
 "layer":[
 {"mark":{"type":"rect","fill":"#ffffff","stroke":"#555555","strokeWidth":1,"cornerRadiusTopLeft":6,"cornerRadiusTopRight":6},"encoding":{"x":{"field":"tab","type":"nominal","scale":{"type":"band","range":[358,494],"paddingInner":0,"paddingOuter":0}},"y":{"field":"bar","type":"nominal","scale":{"type":"band","range":[56,78],"paddingInner":0,"paddingOuter":0}}}},
 {"mark":{"type":"text","align":"left","dx":12,"fontSize":10,"fontWeight":"bold","fill":"#444444"},"encoding":{"x":{"field":"tab","type":"nominal","bandPosition":0,"scale":{"type":"band","range":[358,494],"paddingInner":0,"paddingOuter":0}},"y":{"field":"bar","type":"nominal","scale":{"type":"band","range":[56,78],"paddingInner":0,"paddingOuter":0}},"text":{"field":"tab"}}},
 {"mark":{"type":"text","dx":-19,"fontSize":11,"fill":"#555555"},"encoding":{"x":{"field":"tab","type":"nominal","bandPosition":1,"scale":{"type":"band","range":[358,494],"paddingInner":0,"paddingOuter":0}},"y":{"field":"bar","type":"nominal","scale":{"type":"band","range":[56,78],"paddingInner":0,"paddingOuter":0}},"text":{"value":"⊗"}}}]},
{"data":{"name":"panels"},"transform":[{"filter":"datum.panel=='L'"}],
 "encoding":{"x":{"field":"panel","type":"nominal","scale":{"type":"band","range":[607,627],"paddingInner":0,"paddingOuter":0}},"y":{"field":"panel","type":"nominal","scale":{"type":"band","range":[55,75],"paddingInner":0,"paddingOuter":0}}},
 "layer":[{"mark":{"type":"rect","fill":"#ffffff","stroke":"#8a8a8a","cornerRadius":3}},{"mark":{"type":"text","fontSize":6,"dy":-4,"fill":"#333333"},"encoding":{"text":{"value":"▬▬"}}},{"mark":{"type":"text","fontSize":9,"dy":3,"fill":"#777777"},"encoding":{"text":{"value":"▽"}}}]},
{"data":{"name":"header"},"transform":[{"filter":"datum.col=='level'"}],
 "layer":[
 {"transform":[{"filter":"datum.line!='3'"}],"mark":{"type":"text","align":"left","fontSize":8.5,"fontWeight":"bold","fill":"#333333"},"encoding":{"x":{"field":"col","type":"nominal","bandPosition":0,"scale":{"type":"band","range":[30.7,119],"paddingInner":0,"paddingOuter":0}},"y":{"field":"line","type":"nominal","scale":{"type":"band","domain":["1","2","3"],"range":[78,122],"paddingInner":0,"paddingOuter":0}},"text":{"field":"label"}}},
 {"transform":[{"filter":"datum.line=='3'"}],"mark":{"type":"text","align":"left","fontSize":8.5,"fill":"#808080"},"encoding":{"x":{"field":"col","type":"nominal","bandPosition":0,"scale":{"type":"band","range":[30.7,119],"paddingInner":0,"paddingOuter":0}},"y":{"field":"line","type":"nominal","scale":{"type":"band","domain":["1","2","3"],"range":[78,122],"paddingInner":0,"paddingOuter":0}},"text":{"field":"label"}}},
 {"transform":[{"filter":"datum.line=='1'"}],"mark":{"type":"text","align":"left","dx":47,"fontSize":8.5,"fill":"#808080"},"encoding":{"x":{"field":"col","type":"nominal","bandPosition":0,"scale":{"type":"band","range":[30.7,119],"paddingInner":0,"paddingOuter":0}},"y":{"field":"line","type":"nominal","scale":{"type":"band","domain":["1","2","3"],"range":[78,122],"paddingInner":0,"paddingOuter":0}},"text":{"field":"value"}}},
 {"transform":[{"filter":"datum.line=='2'"}],"mark":{"type":"text","align":"right","fontSize":8.5,"fill":"#808080"},"encoding":{"x":{"field":"col","type":"nominal","bandPosition":1,"scale":{"type":"band","range":[30.7,119],"paddingInner":0,"paddingOuter":0}},"y":{"field":"line","type":"nominal","scale":{"type":"band","domain":["1","2","3"],"range":[78,122],"paddingInner":0,"paddingOuter":0}},"text":{"field":"value"}}}]},
{"data":{"name":"header"},"transform":[{"filter":"datum.col=='sweep'"}],
 "layer":[
 {"mark":{"type":"text","align":"left","fontSize":6,"fill":"#5cb85c"},"encoding":{"x":{"field":"col","type":"nominal","bandPosition":0,"scale":{"type":"band","range":[123,230],"paddingInner":0,"paddingOuter":0}},"y":{"field":"line","type":"nominal","scale":{"type":"band","domain":["1","2","3"],"range":[78,122],"paddingInner":0,"paddingOuter":0}},"text":{"value":"●"}}},
 {"mark":{"type":"text","align":"left","dx":7,"fontSize":8.5,"fontWeight":"bold","fill":"#333333"},"encoding":{"x":{"field":"col","type":"nominal","bandPosition":0,"scale":{"type":"band","range":[123,230],"paddingInner":0,"paddingOuter":0}},"y":{"field":"line","type":"nominal","scale":{"type":"band","domain":["1","2","3"],"range":[78,122],"paddingInner":0,"paddingOuter":0}},"text":{"field":"label"}}},
 {"mark":{"type":"text","align":"left","dx":33,"fontSize":8.5,"fill":"#808080"},"encoding":{"x":{"field":"col","type":"nominal","bandPosition":0,"scale":{"type":"band","range":[123,230],"paddingInner":0,"paddingOuter":0}},"y":{"field":"line","type":"nominal","scale":{"type":"band","domain":["1","2","3"],"range":[78,122],"paddingInner":0,"paddingOuter":0}},"text":{"field":"value"}}}]},
{"data":{"name":"header"},"transform":[{"filter":"datum.col=='bandwidth'"}],
 "layer":[
 {"mark":{"type":"text","align":"left","fontSize":6,"fill":"#5cb85c"},"encoding":{"x":{"field":"col","type":"nominal","bandPosition":0,"scale":{"type":"band","range":[230,307],"paddingInner":0,"paddingOuter":0}},"y":{"field":"line","type":"nominal","scale":{"type":"band","domain":["1","2","3"],"range":[78,122],"paddingInner":0,"paddingOuter":0}},"text":{"value":"●"}}},
 {"mark":{"type":"text","align":"left","dx":7,"fontSize":8.5,"fontWeight":"bold","fill":"#333333"},"encoding":{"x":{"field":"col","type":"nominal","bandPosition":0,"scale":{"type":"band","range":[230,307],"paddingInner":0,"paddingOuter":0}},"y":{"field":"line","type":"nominal","scale":{"type":"band","domain":["1","2","3"],"range":[78,122],"paddingInner":0,"paddingOuter":0}},"text":{"field":"label"}}},
 {"mark":{"type":"text","align":"right","fontSize":8.5,"fill":"#808080"},"encoding":{"x":{"field":"col","type":"nominal","bandPosition":1,"scale":{"type":"band","range":[230,307],"paddingInner":0,"paddingOuter":0}},"y":{"field":"line","type":"nominal","scale":{"type":"band","domain":["1","2","3"],"range":[78,122],"paddingInner":0,"paddingOuter":0}},"text":{"field":"value"}}}]},
{"data":{"name":"panels"},"transform":[{"filter":"datum.panel=='L'"}],
 "layer":[
 {"mark":{"type":"rect","filled":false,"stroke":"#555555","strokeWidth":2,"cornerRadius":4},"encoding":{"x":{"field":"panel","type":"nominal","scale":{"type":"band","range":[20,629],"paddingInner":0,"paddingOuter":0}},"y":{"field":"panel","type":"nominal","scale":{"type":"band","range":[123,425],"paddingInner":0,"paddingOuter":0}}}},
 {"mark":{"type":"text","align":"left","dx":2,"dy":7,"fontSize":8,"fill":"#2a2ad0"},"encoding":{"x":{"field":"panel","type":"nominal","bandPosition":0,"scale":{"type":"band","range":[20,629],"paddingInner":0,"paddingOuter":0}},"y":{"field":"panel","type":"nominal","bandPosition":0,"scale":{"type":"band","range":[123,425],"paddingInner":0,"paddingOuter":0}},"text":{"value":"●"}}},
 {"mark":{"type":"text","align":"left","dx":9,"dy":7,"fontSize":8.5,"fill":"#444444"},"encoding":{"x":{"field":"panel","type":"nominal","bandPosition":0,"scale":{"type":"band","range":[20,629],"paddingInner":0,"paddingOuter":0}},"y":{"field":"panel","type":"nominal","bandPosition":0,"scale":{"type":"band","range":[123,425],"paddingInner":0,"paddingOuter":0}},"text":{"value":"1Pk Max"}}},
 {"mark":{"type":"text","align":"left","dx":3,"dy":-8,"fontSize":8.5,"fontWeight":"bold","fill":"#333333"},"encoding":{"x":{"field":"panel","type":"nominal","bandPosition":0,"scale":{"type":"band","range":[20,629],"paddingInner":0,"paddingOuter":0}},"y":{"field":"panel","type":"nominal","bandPosition":1,"scale":{"type":"band","range":[123,425],"paddingInner":0,"paddingOuter":0}},"text":{"field":"cf"}}},
 {"mark":{"type":"text","dx":-2,"dy":-8,"fontSize":8.5,"fontWeight":"bold","fill":"#333333"},"encoding":{"x":{"field":"panel","type":"nominal","bandPosition":0.5,"scale":{"type":"band","range":[20,629],"paddingInner":0,"paddingOuter":0}},"y":{"field":"panel","type":"nominal","bandPosition":1,"scale":{"type":"band","range":[123,425],"paddingInner":0,"paddingOuter":0}},"text":{"field":"pts"}}},
 {"mark":{"type":"text","align":"right","dx":-11,"dy":-8,"fontSize":8.5,"fontWeight":"bold","fill":"#333333"},"encoding":{"x":{"field":"panel","type":"nominal","bandPosition":1,"scale":{"type":"band","range":[20,629],"paddingInner":0,"paddingOuter":0}},"y":{"field":"panel","type":"nominal","bandPosition":1,"scale":{"type":"band","range":[123,425],"paddingInner":0,"paddingOuter":0}},"text":{"field":"div"}}}]},
{"layer":[
 {"data":{"name":"gridX"},"transform":[{"filter":"datum.panel=='L'"}],"mark":{"type":"rule","stroke":"#7a7a7a","strokeWidth":1},"encoding":{"x":{"field":"t","type":"quantitative","scale":{"domain":[0,1900],"range":[22,627],"nice":false,"zero":false}},"y":{"datum":-80,"type":"quantitative","scale":{"domain":[-80,20],"range":[409,138],"nice":false,"zero":false}},"y2":{"datum":20}}},
 {"data":{"name":"gridY"},"mark":{"type":"rule","stroke":"#7a7a7a","strokeWidth":1},"encoding":{"y":{"field":"dbm","type":"quantitative","scale":{"domain":[-80,20],"range":[409,138],"nice":false,"zero":false}},"x":{"datum":0,"type":"quantitative","scale":{"domain":[0,1900],"range":[22,627],"nice":false,"zero":false}},"x2":{"datum":1900}}},
 {"data":{"name":"gridY"},"transform":[{"filter":"datum.label!=''"}],"mark":{"type":"point","filled":true,"fill":"#ffffff","opacity":1,"size":400,"strokeWidth":0},"encoding":{"y":{"field":"dbm","type":"quantitative","scale":{"domain":[-80,20],"range":[409,138],"nice":false,"zero":false}},"x":{"datum":0,"type":"quantitative","scale":{"domain":[0,1900],"range":[22,627],"nice":false,"zero":false}},"shape":{"field":"label","type":"nominal","scale":{"domain":["10 dBm","0 dBm","-10 dBm","-20 dBm","-30 dBm","-40 dBm","-50 dBm","-60 dBm","-70 dBm"],"range":["M0.15,-0.5H4.0V0.5H0.15Z","M0.15,-0.5H3.4V0.5H0.15Z","M0.15,-0.5H4.3V0.5H0.15Z","M0.15,-0.5H4.3V0.5H0.15Z","M0.15,-0.5H4.3V0.5H0.15Z","M0.15,-0.5H4.3V0.5H0.15Z","M0.15,-0.5H4.3V0.5H0.15Z","M0.15,-0.5H4.3V0.5H0.15Z","M0.15,-0.5H4.3V0.5H0.15Z"]}}}},
 {"data":{"name":"gridY"},"transform":[{"filter":"datum.label!=''"}],"mark":{"type":"text","align":"left","dx":3,"fontSize":9,"fill":"#555555"},"encoding":{"y":{"field":"dbm","type":"quantitative","scale":{"domain":[-80,20],"range":[409,138],"nice":false,"zero":false}},"x":{"datum":0,"type":"quantitative","scale":{"domain":[0,1900],"range":[22,627],"nice":false,"zero":false}},"text":{"field":"label"}}}]},
{"data":{"name":"info"},"transform":[{"filter":"datum.panel=='L'"}],
 "layer":[
 {"mark":{"type":"rect","fill":"#ffffff"},"encoding":{"x":{"field":"box","type":"nominal","scale":{"type":"band","range":[374,626],"paddingInner":0,"paddingOuter":0}},"y":{"field":"line","type":"nominal","scale":{"type":"band","domain":["1","2","3","4"],"range":[139.5,190.5],"paddingInner":0,"paddingOuter":0}}}},
 {"mark":{"type":"text","align":"left","dx":1,"fontSize":9,"fontWeight":"bold","fill":"#3f9fd8"},"encoding":{"x":{"field":"box","type":"nominal","bandPosition":0,"scale":{"type":"band","range":[374,626],"paddingInner":0,"paddingOuter":0}},"y":{"field":"line","type":"nominal","scale":{"type":"band","domain":["1","2","3","4"],"range":[139.5,190.5],"paddingInner":0,"paddingOuter":0}},"text":{"field":"left"}}},
 {"mark":{"type":"text","align":"right","dx":-1,"fontSize":9,"fontWeight":"bold","fill":"#3f9fd8"},"encoding":{"x":{"field":"box","type":"nominal","bandPosition":1,"scale":{"type":"band","range":[374,626],"paddingInner":0,"paddingOuter":0}},"y":{"field":"line","type":"nominal","scale":{"type":"band","domain":["1","2","3","4"],"range":[139.5,190.5],"paddingInner":0,"paddingOuter":0}},"text":{"field":"right"}}}]},
{"layer":[
 {"data":{"name":"trigger"},"transform":[{"filter":"datum.panel=='L'"}],"mark":{"type":"rule","stroke":"#f27878","strokeWidth":1.5},"encoding":{"y":{"field":"dbm","type":"quantitative","scale":{"domain":[-80,20],"range":[409,138],"nice":false,"zero":false}},"x":{"datum":0,"type":"quantitative","scale":{"domain":[0,1900],"range":[22,627],"nice":false,"zero":false}},"x2":{"datum":1900}}},
 {"data":{"name":"trigger"},"transform":[{"filter":"datum.panel=='L'"}],"mark":{"type":"point","filled":true,"fill":"#ffffff","opacity":1,"size":400,"strokeWidth":0,"shape":"M0.12,-0.5H6.9V0.5H0.12Z"},"encoding":{"y":{"field":"dbm","type":"quantitative","scale":{"domain":[-80,20],"range":[409,138],"nice":false,"zero":false}},"x":{"datum":190,"type":"quantitative","scale":{"domain":[0,1900],"range":[22,627],"nice":false,"zero":false}}}},
 {"data":{"name":"trigger"},"transform":[{"filter":"datum.panel=='L'"}],"mark":{"type":"text","align":"left","dx":2,"fontSize":8.5,"fill":"#e86a64"},"encoding":{"y":{"field":"dbm","type":"quantitative","scale":{"domain":[-80,20],"range":[409,138],"nice":false,"zero":false}},"x":{"datum":190,"type":"quantitative","scale":{"domain":[0,1900],"range":[22,627],"nice":false,"zero":false}},"text":{"field":"label"}}},
 {"data":{"name":"trace"},"transform":[{"filter":"datum.panel=='L'"}],"mark":{"type":"line","stroke":"#6161ec","strokeWidth":1.3},"encoding":{"x":{"field":"t","type":"quantitative","scale":{"domain":[0,1900],"range":[22,627],"nice":false,"zero":false}},"y":{"field":"dbm","type":"quantitative","scale":{"domain":[-80,20],"range":[409,138],"nice":false,"zero":false}}}},
 {"data":{"name":"markers"},"transform":[{"filter":"datum.panel=='L'"}],"mark":{"type":"point","filled":true,"fill":"#1f8cc2","size":40,"opacity":1,"strokeWidth":0},"encoding":{"x":{"field":"t","type":"quantitative","scale":{"domain":[0,1900],"range":[22,627],"nice":false,"zero":false}},"y":{"field":"dbm","type":"quantitative","scale":{"domain":[-80,20],"range":[409,138],"nice":false,"zero":false}},"shape":{"field":"type","type":"nominal","scale":{"domain":["M","D"],"range":["M-1,-2L1,-2L0,0Z","M-1,2L1,2L0,0Z"]}}}},
 {"data":{"name":"markers"},"transform":[{"filter":"datum.panel=='L'"}],"mark":{"type":"text","dy":-11,"fontSize":9,"fill":"#4aa9dd"},"encoding":{"x":{"field":"t","type":"quantitative","scale":{"domain":[0,1900],"range":[22,627],"nice":false,"zero":false}},"y":{"field":"dbm","type":"quantitative","scale":{"domain":[-80,20],"range":[409,138],"nice":false,"zero":false}},"text":{"field":"name"}}}]},
{"data":{"name":"panels"},"transform":[{"filter":"datum.panel=='L'"}],
 "layer":[
 {"mark":{"type":"rect","filled":false,"stroke":"#7a7a7a","strokeWidth":1.5,"cornerRadius":3},"encoding":{"x":{"field":"panel","type":"nominal","scale":{"type":"band","range":[20,628],"paddingInner":0,"paddingOuter":0}},"y":{"field":"panel","type":"nominal","scale":{"type":"band","range":[425,495],"paddingInner":0,"paddingOuter":0}}}},
 {"mark":{"type":"text","align":"left","dx":2,"dy":8,"fontSize":8.5,"fontWeight":"bold","fill":"#333333"},"encoding":{"x":{"field":"panel","type":"nominal","bandPosition":0,"scale":{"type":"band","range":[20,628],"paddingInner":0,"paddingOuter":0}},"y":{"field":"panel","type":"nominal","bandPosition":0,"scale":{"type":"band","range":[425,495],"paddingInner":0,"paddingOuter":0}},"text":{"value":"Marker"}}}]},
{"data":{"name":"table"},"transform":[{"filter":"datum.panel=='L' && datum.col=='Type'"}],"layer":[
 {"mark":{"type":"rect","filled":false,"stroke":"#c6c6c6","strokeWidth":1},"encoding":{"x":{"field":"col","type":"nominal","scale":{"type":"band","range":[21,61],"paddingInner":0,"paddingOuter":0}},"y":{"field":"row","type":"nominal","scale":{"type":"band","domain":["hdr","M1","D1","D2"],"range":[441,494],"paddingInner":0,"paddingOuter":0}}}},
 {"transform":[{"filter":"datum.row=='hdr'"}],"mark":{"type":"text","fontSize":9,"fontWeight":"bold","fill":"#333333"},"encoding":{"x":{"field":"col","type":"nominal","scale":{"type":"band","range":[21,61],"paddingInner":0,"paddingOuter":0}},"y":{"field":"row","type":"nominal","scale":{"type":"band","domain":["hdr","M1","D1","D2"],"range":[441,494],"paddingInner":0,"paddingOuter":0}},"text":{"field":"text"}}},
 {"transform":[{"filter":"datum.row!='hdr'"}],"mark":{"type":"text","align":"right","dx":-5,"fontSize":8.5,"fill":"#7a7a7a"},"encoding":{"x":{"field":"col","type":"nominal","bandPosition":1,"scale":{"type":"band","range":[21,61],"paddingInner":0,"paddingOuter":0}},"y":{"field":"row","type":"nominal","scale":{"type":"band","domain":["hdr","M1","D1","D2"],"range":[441,494],"paddingInner":0,"paddingOuter":0}},"text":{"field":"text"}}}]},
{"data":{"name":"table"},"transform":[{"filter":"datum.panel=='L' && datum.col=='Ref'"}],"layer":[
 {"mark":{"type":"rect","filled":false,"stroke":"#c6c6c6","strokeWidth":1},"encoding":{"x":{"field":"col","type":"nominal","scale":{"type":"band","range":[61,92],"paddingInner":0,"paddingOuter":0}},"y":{"field":"row","type":"nominal","scale":{"type":"band","domain":["hdr","M1","D1","D2"],"range":[441,494],"paddingInner":0,"paddingOuter":0}}}},
 {"transform":[{"filter":"datum.row=='hdr'"}],"mark":{"type":"text","fontSize":9,"fontWeight":"bold","fill":"#333333"},"encoding":{"x":{"field":"col","type":"nominal","scale":{"type":"band","range":[61,92],"paddingInner":0,"paddingOuter":0}},"y":{"field":"row","type":"nominal","scale":{"type":"band","domain":["hdr","M1","D1","D2"],"range":[441,494],"paddingInner":0,"paddingOuter":0}},"text":{"field":"text"}}},
 {"transform":[{"filter":"datum.row!='hdr'"}],"mark":{"type":"text","fontSize":8.5,"fill":"#7a7a7a"},"encoding":{"x":{"field":"col","type":"nominal","scale":{"type":"band","range":[61,92],"paddingInner":0,"paddingOuter":0}},"y":{"field":"row","type":"nominal","scale":{"type":"band","domain":["hdr","M1","D1","D2"],"range":[441,494],"paddingInner":0,"paddingOuter":0}},"text":{"field":"text"}}}]},
{"data":{"name":"table"},"transform":[{"filter":"datum.panel=='L' && datum.col=='Trc'"}],"layer":[
 {"mark":{"type":"rect","filled":false,"stroke":"#c6c6c6","strokeWidth":1},"encoding":{"x":{"field":"col","type":"nominal","scale":{"type":"band","range":[92,122],"paddingInner":0,"paddingOuter":0}},"y":{"field":"row","type":"nominal","scale":{"type":"band","domain":["hdr","M1","D1","D2"],"range":[441,494],"paddingInner":0,"paddingOuter":0}}}},
 {"transform":[{"filter":"datum.row=='hdr'"}],"mark":{"type":"text","fontSize":9,"fontWeight":"bold","fill":"#333333"},"encoding":{"x":{"field":"col","type":"nominal","scale":{"type":"band","range":[92,122],"paddingInner":0,"paddingOuter":0}},"y":{"field":"row","type":"nominal","scale":{"type":"band","domain":["hdr","M1","D1","D2"],"range":[441,494],"paddingInner":0,"paddingOuter":0}},"text":{"field":"text"}}},
 {"transform":[{"filter":"datum.row!='hdr'"}],"mark":{"type":"text","align":"right","dx":-5,"fontSize":8.5,"fill":"#7a7a7a"},"encoding":{"x":{"field":"col","type":"nominal","bandPosition":1,"scale":{"type":"band","range":[92,122],"paddingInner":0,"paddingOuter":0}},"y":{"field":"row","type":"nominal","scale":{"type":"band","domain":["hdr","M1","D1","D2"],"range":[441,494],"paddingInner":0,"paddingOuter":0}},"text":{"field":"text"}}}]},
{"data":{"name":"table"},"transform":[{"filter":"datum.panel=='L' && datum.col=='X-value'"}],"layer":[
 {"mark":{"type":"rect","filled":false,"stroke":"#c6c6c6","strokeWidth":1},"encoding":{"x":{"field":"col","type":"nominal","scale":{"type":"band","range":[122,243],"paddingInner":0,"paddingOuter":0}},"y":{"field":"row","type":"nominal","scale":{"type":"band","domain":["hdr","M1","D1","D2"],"range":[441,494],"paddingInner":0,"paddingOuter":0}}}},
 {"transform":[{"filter":"datum.row=='hdr'"}],"mark":{"type":"text","fontSize":9,"fontWeight":"bold","fill":"#333333"},"encoding":{"x":{"field":"col","type":"nominal","scale":{"type":"band","range":[122,243],"paddingInner":0,"paddingOuter":0}},"y":{"field":"row","type":"nominal","scale":{"type":"band","domain":["hdr","M1","D1","D2"],"range":[441,494],"paddingInner":0,"paddingOuter":0}},"text":{"field":"text"}}},
 {"transform":[{"filter":"datum.row!='hdr'"}],"mark":{"type":"text","align":"right","dx":-5,"fontSize":8.5,"fill":"#7a7a7a"},"encoding":{"x":{"field":"col","type":"nominal","bandPosition":1,"scale":{"type":"band","range":[122,243],"paddingInner":0,"paddingOuter":0}},"y":{"field":"row","type":"nominal","scale":{"type":"band","domain":["hdr","M1","D1","D2"],"range":[441,494],"paddingInner":0,"paddingOuter":0}},"text":{"field":"text"}}}]},
{"data":{"name":"table"},"transform":[{"filter":"datum.panel=='L' && datum.col=='Y-value'"}],"layer":[
 {"mark":{"type":"rect","filled":false,"stroke":"#c6c6c6","strokeWidth":1},"encoding":{"x":{"field":"col","type":"nominal","scale":{"type":"band","range":[243,341],"paddingInner":0,"paddingOuter":0}},"y":{"field":"row","type":"nominal","scale":{"type":"band","domain":["hdr","M1","D1","D2"],"range":[441,494],"paddingInner":0,"paddingOuter":0}}}},
 {"transform":[{"filter":"datum.row=='hdr'"}],"mark":{"type":"text","fontSize":9,"fontWeight":"bold","fill":"#333333"},"encoding":{"x":{"field":"col","type":"nominal","scale":{"type":"band","range":[243,341],"paddingInner":0,"paddingOuter":0}},"y":{"field":"row","type":"nominal","scale":{"type":"band","domain":["hdr","M1","D1","D2"],"range":[441,494],"paddingInner":0,"paddingOuter":0}},"text":{"field":"text"}}},
 {"transform":[{"filter":"datum.row!='hdr'"}],"mark":{"type":"text","align":"right","dx":-4,"fontSize":8.5,"fill":"#7a7a7a"},"encoding":{"x":{"field":"col","type":"nominal","bandPosition":1,"scale":{"type":"band","range":[243,341],"paddingInner":0,"paddingOuter":0}},"y":{"field":"row","type":"nominal","scale":{"type":"band","domain":["hdr","M1","D1","D2"],"range":[441,494],"paddingInner":0,"paddingOuter":0}},"text":{"field":"text"}}}]},
{"data":{"name":"table"},"transform":[{"filter":"datum.panel=='L' && datum.col=='Function'"}],"layer":[
 {"mark":{"type":"rect","filled":false,"stroke":"#c6c6c6","strokeWidth":1},"encoding":{"x":{"field":"col","type":"nominal","scale":{"type":"band","range":[341,421],"paddingInner":0,"paddingOuter":0}},"y":{"field":"row","type":"nominal","scale":{"type":"band","domain":["hdr","M1","D1","D2"],"range":[441,494],"paddingInner":0,"paddingOuter":0}}}},
 {"transform":[{"filter":"datum.row=='hdr'"}],"mark":{"type":"text","fontSize":9,"fontWeight":"bold","fill":"#333333"},"encoding":{"x":{"field":"col","type":"nominal","scale":{"type":"band","range":[341,421],"paddingInner":0,"paddingOuter":0}},"y":{"field":"row","type":"nominal","scale":{"type":"band","domain":["hdr","M1","D1","D2"],"range":[441,494],"paddingInner":0,"paddingOuter":0}},"text":{"field":"text"}}}]},
{"data":{"name":"table"},"transform":[{"filter":"datum.panel=='L' && datum.col=='Function Result'"}],"layer":[
 {"mark":{"type":"rect","filled":false,"stroke":"#c6c6c6","strokeWidth":1},"encoding":{"x":{"field":"col","type":"nominal","scale":{"type":"band","range":[421,623],"paddingInner":0,"paddingOuter":0}},"y":{"field":"row","type":"nominal","scale":{"type":"band","domain":["hdr","M1","D1","D2"],"range":[441,494],"paddingInner":0,"paddingOuter":0}}}},
 {"transform":[{"filter":"datum.row=='hdr'"}],"mark":{"type":"text","fontSize":9,"fontWeight":"bold","fill":"#333333"},"encoding":{"x":{"field":"col","type":"nominal","scale":{"type":"band","range":[421,623],"paddingInner":0,"paddingOuter":0}},"y":{"field":"row","type":"nominal","scale":{"type":"band","domain":["hdr","M1","D1","D2"],"range":[441,494],"paddingInner":0,"paddingOuter":0}},"text":{"field":"text"}}}]},
{"data":{"name":"panels"},"transform":[{"filter":"datum.panel=='L'"}],"mark":{"type":"rect","fill":"#555555"},"encoding":{"x":{"field":"panel","type":"nominal","scale":{"type":"band","range":[21,623],"paddingInner":0,"paddingOuter":0}},"y":{"field":"panel","type":"nominal","scale":{"type":"band","range":[454.2,455.8],"paddingInner":0,"paddingOuter":0}}}},
{"data":{"name":"panels"},"transform":[{"filter":"datum.panel=='L'"}],"mark":{"type":"rect","filled":false,"stroke":"#9f9f9f","strokeWidth":1,"cornerRadius":4},"encoding":{"x":{"field":"panel","type":"nominal","scale":{"type":"band","range":[20,95],"paddingInner":0,"paddingOuter":0}},"y":{"field":"panel","type":"nominal","scale":{"type":"band","range":[498,516],"paddingInner":0,"paddingOuter":0}}}},
{"data":{"name":"panels"},"transform":[{"filter":"datum.panel=='L'"}],"mark":{"type":"rect","filled":false,"stroke":"#9f9f9f","strokeWidth":1,"cornerRadius":4},"encoding":{"x":{"field":"panel","type":"nominal","scale":{"type":"band","range":[98,346],"paddingInner":0,"paddingOuter":0}},"y":{"field":"panel","type":"nominal","scale":{"type":"band","range":[498,516],"paddingInner":0,"paddingOuter":0}}}},
{"data":{"name":"panels"},"transform":[{"filter":"datum.panel=='L'"}],"layer":[
 {"mark":{"type":"text","align":"left","fontSize":8,"fontWeight":"bold","fill":"#444444"},"encoding":{"x":{"field":"panel","type":"nominal","bandPosition":0,"scale":{"type":"band","range":[366,628],"paddingInner":0,"paddingOuter":0}},"y":{"field":"panel","type":"nominal","scale":{"type":"band","range":[498,516],"paddingInner":0,"paddingOuter":0}},"text":{"value":"Measuring..."}}},
 {"mark":{"type":"text","fontSize":9,"fontWeight":"bold","fontStyle":"italic","fill":"#4a9a3a"},"encoding":{"x":{"field":"panel","type":"nominal","bandPosition":0.586,"scale":{"type":"band","range":[366,628],"paddingInner":0,"paddingOuter":0}},"y":{"field":"panel","type":"nominal","scale":{"type":"band","range":[498,516],"paddingInner":0,"paddingOuter":0}},"text":{"value":"LXI"}}},
 {"mark":{"type":"text","align":"right","dy":-4,"fontSize":6.5,"fontWeight":"bold","fill":"#333333"},"encoding":{"x":{"field":"panel","type":"nominal","bandPosition":0.912,"scale":{"type":"band","range":[366,628],"paddingInner":0,"paddingOuter":0}},"y":{"field":"panel","type":"nominal","scale":{"type":"band","range":[498,516],"paddingInner":0,"paddingOuter":0}},"text":{"field":"date"}}},
 {"mark":{"type":"text","align":"right","dy":5,"fontSize":6.5,"fontWeight":"bold","fill":"#333333"},"encoding":{"x":{"field":"panel","type":"nominal","bandPosition":0.912,"scale":{"type":"band","range":[366,628],"paddingInner":0,"paddingOuter":0}},"y":{"field":"panel","type":"nominal","scale":{"type":"band","range":[498,516],"paddingInner":0,"paddingOuter":0}},"text":{"field":"time"}}},
 {"mark":{"type":"text","align":"right","fontSize":13,"fill":"#c4c4c4"},"encoding":{"x":{"field":"panel","type":"nominal","bandPosition":1,"scale":{"type":"band","range":[366,628],"paddingInner":0,"paddingOuter":0}},"y":{"field":"panel","type":"nominal","scale":{"type":"band","range":[498,516],"paddingInner":0,"paddingOuter":0}},"text":{"value":"◢"}}}]},
{"data":{"name":"progress"},"transform":[{"filter":"datum.panel=='L'"}],"mark":{"type":"rect"},"encoding":{"x":{"field":"seg","type":"nominal","sort":null,"scale":{"type":"band","range":[444,504],"paddingInner":0.2,"paddingOuter":0}},"y":{"field":"bar","type":"nominal","scale":{"type":"band","range":[503,512],"paddingInner":0,"paddingOuter":0}},"fill":{"condition":{"test":"datum.state=='on'","value":"#1e1e1e"},"value":"#b3b3b3"}}}
]}
]
}
